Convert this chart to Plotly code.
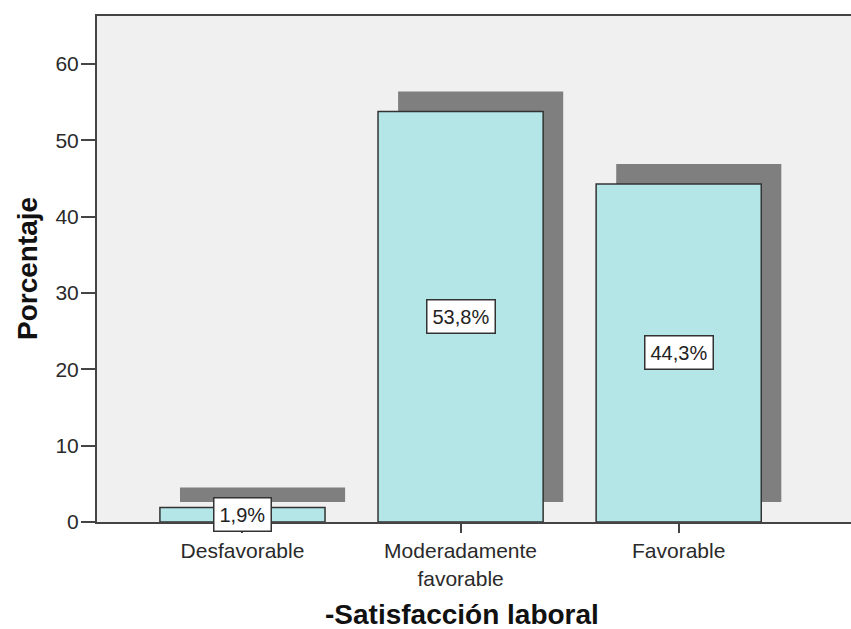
import plotly.graph_objects as go

categories = ["Desfavorable", "Moderadamente<br>favorable", "Favorable"]
values = [1.9, 53.8, 44.3]
labels = ["1,9%", "53,8%", "44,3%"]

BAR_W = 0.757
SH_DX = 0.092      # shadow shift in category units
SH_DY = 2.62       # shadow lift in data units
Y_MAX = 66.3

fig = go.Figure()
# shadows
fig.add_trace(go.Bar(
    x=categories, y=values, base=[SH_DY] * len(values),
    width=BAR_W, offset=-BAR_W / 2 + SH_DX,
    marker=dict(color="#7f7f7f", line=dict(width=0)),
    hoverinfo="skip", showlegend=False))
# bars
fig.add_trace(go.Bar(
    x=categories, y=values,
    width=BAR_W, offset=-BAR_W / 2,
    marker=dict(color="#b4e6e8", line=dict(color="#333333", width=1.5)),
    showlegend=False))

for c, v, t in zip(categories, values, labels):
    fig.add_annotation(x=c, y=v / 2, text=t, showarrow=False,
                       font=dict(family="Liberation Sans, Arial", size=20, color="#222"),
                       bgcolor="white", bordercolor="#333", borderwidth=1.5, borderpad=5)

fig.add_annotation(x=(462 - 97) / 754, y=-(614 - 522) / 506, xref="paper", yref="paper",
                   text="<b>-Satisfacción laboral</b>", showarrow=False,
                   xanchor="center", yanchor="middle",
                   font=dict(family="Liberation Sans, Arial", size=28, color="#111"))
fig.add_annotation(x=-(97 - 27) / 754, y=0.5, xref="paper", yref="paper",
                   text="<b>Porcentaje</b>", showarrow=False, textangle=-90,
                   xanchor="center", yanchor="middle",
                   font=dict(family="Liberation Sans, Arial", size=28, color="#111"))

fig.update_layout(
    width=851, height=629,
    margin=dict(l=97, r=0, t=16, b=107),
    paper_bgcolor="white", plot_bgcolor="#f0f0f0",
    barmode="overlay",
    font=dict(family="Liberation Sans, Arial", size=21, color="#2a2a2a"),
)
fig.update_xaxes(type="category", range=[-0.667, 2.79],
                 showline=True, linecolor="#444", linewidth=2, mirror=True,
                 ticks="outside", ticklen=9, tickcolor="#444", tickwidth=2,
                 showgrid=False, tickfont=dict(size=21))
fig.update_yaxes(range=[0, Y_MAX], tickvals=[0, 10, 20, 30, 40, 50, 60],
                 showline=True, linecolor="#444", linewidth=2,
                 ticks="outside", ticklen=14, tickcolor="#444", tickwidth=2,
                 ticklabelstandoff=-2,
                 showgrid=False, zeroline=False, tickfont=dict(size=21))

fig.write_html("out.html")
